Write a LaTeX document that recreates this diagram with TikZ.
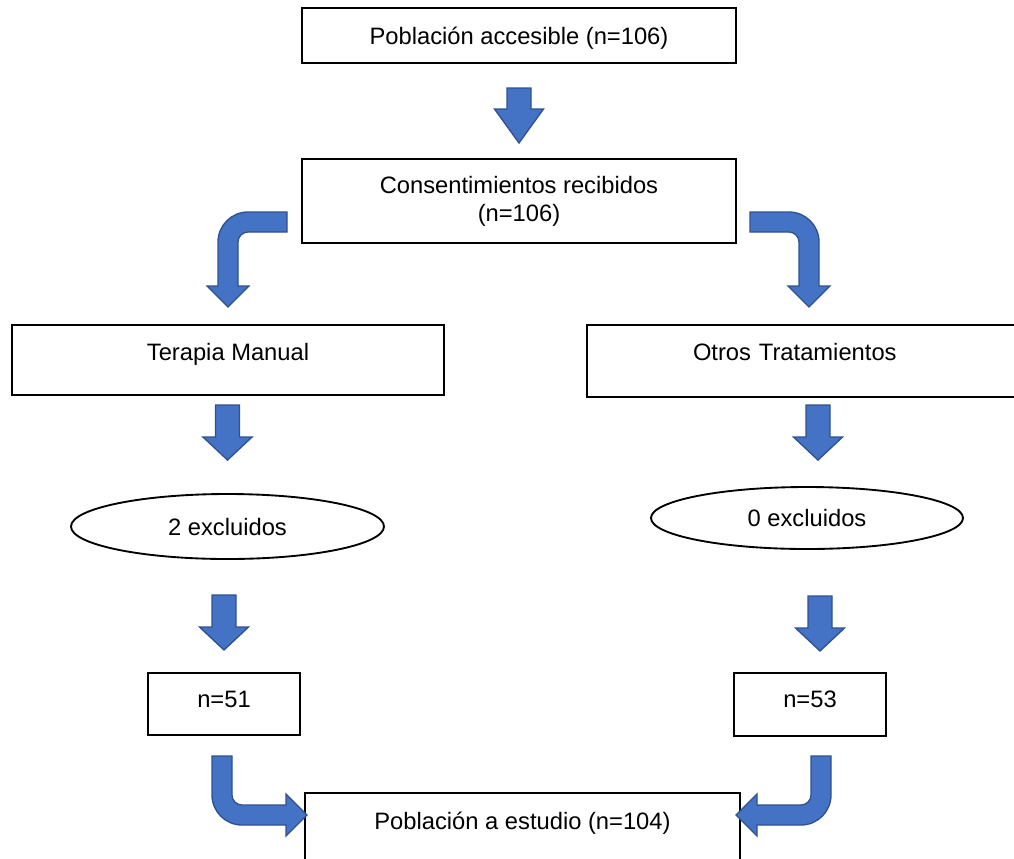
\documentclass[tikz,border=0pt]{standalone}
\usepackage{fontspec}
\setmainfont{Liberation Sans}
\usetikzlibrary{positioning,calc,shapes.geometric}
\definecolor{ArrowFill}{HTML}{4472C4}
\definecolor{ArrowEdge}{HTML}{2F528F}
\tikzset{
  box/.style={draw=black,line width=1.5pt,inner sep=0pt,align=center,font=\fontsize{17.8pt}{21pt}\selectfont},
  oval/.style={draw=black,ellipse,line width=1.4pt,inner sep=0pt,font=\fontsize{17.8pt}{21pt}\selectfont},
  lift/.style={text height=13pt,text depth=#1},
  blockarrow/.style={fill=ArrowFill,draw=ArrowEdge,line width=1pt,line join=miter},
  pics/downarrow/.style={code={
    \filldraw[blockarrow] (-12,-55) -- (12,-55) -- (12,-#1) -- (24.5,-#1) -- (0,0) -- (-24.5,-#1) -- (-12,-#1) -- cycle;}},
  pics/bendtop/.style={code={
    \filldraw[blockarrow] (59,-95) -- (20,-95) .. controls (3.4,-95) and (-10,-81.6) .. (-10,-65)
      -- (-10,-21) -- (-21,-21) -- (0,0) -- (21,-21) -- (10,-21) -- (10,-65)
      .. controls (10,-70.5) and (14.5,-75) .. (20,-75) -- (59,-75) -- cycle;}},
  pics/bendbottom/.style={code={
    \filldraw[blockarrow] (-95,-59) -- (-95,-20) .. controls (-95,-3.4) and (-81.6,10) .. (-65,10)
      -- (-21,10) -- (-21,21) -- (0,0) -- (-21,-21) -- (-21,-10) -- (-65,-10)
      .. controls (-70.5,-10) and (-75,-14.5) .. (-75,-20) -- (-75,-59) -- cycle;}}
}

\begin{document}
\begin{tikzpicture}[x=0.75pt,y=-0.75pt]
  \useasboundingbox (0,0) rectangle (1014,858);
  \clip (0,0) rectangle (1014,858);
  % boxes
  \node[box,lift=0pt,minimum width=325.5pt,minimum height=41.25pt] (acc) at (519,35.5) {Población accesible (n=106)};
  \node[box,minimum width=325.5pt,minimum height=63pt,below=70.5pt of acc] (cons) {Consentimientos recibidos\\(n=106)};
  \node[box,lift=12.2pt,minimum width=324pt,minimum height=52.5pt] (ter) at (228,360) {Terapia Manual};
  \node[box,lift=13.7pt,text width=180.75pt,align=left,minimum width=339.75pt,minimum height=54pt] (otr) at (813.5,361) {Otros Tratamientos};
  \node[oval,lift=0pt,minimum width=234.75pt,minimum height=48.75pt] (exc1) at (227.5,526.5) {2 excluidos};
  \node[oval,lift=0pt,minimum width=234pt,minimum height=46.5pt] (exc2) at (807,518) {0 excluidos};
  \node[box,lift=7.7pt,minimum width=114pt,minimum height=46.5pt] (n51) at (224,704) {n=51};
  \node[box,lift=8.4pt,minimum width=114pt,minimum height=47.25pt] (n53) at (810,704.5) {n=53};
  \node[box,lift=12.2pt,minimum width=326.25pt,minimum height=54pt] (est) at (522.5,829) {Población a estudio (n=104)};
  % block arrows
  \pic at ($(cons.north)+(0,-15)$) {downarrow=34};
  \pic at ($(ter.north)+(0,-17)$) {bendtop};
  \pic[xscale=-1] at ($(otr.north)+(-4.5,-17)$) {bendtop};
  \pic at ($(exc1.north)+(0,-33)$) {downarrow=23};
  \pic at ($(exc2.north)+(11,-26)$) {downarrow=23};
  \pic at ($(n51.north)+(0,-22)$) {downarrow=23};
  \pic at ($(n53.north)+(10,-21)$) {downarrow=23};
  \pic at ($(est.west)+(3,-14)$) {bendbottom};
  \pic[xscale=-1] at ($(est.east)+(-5,-14)$) {bendbottom};
\end{tikzpicture}
\end{document}
